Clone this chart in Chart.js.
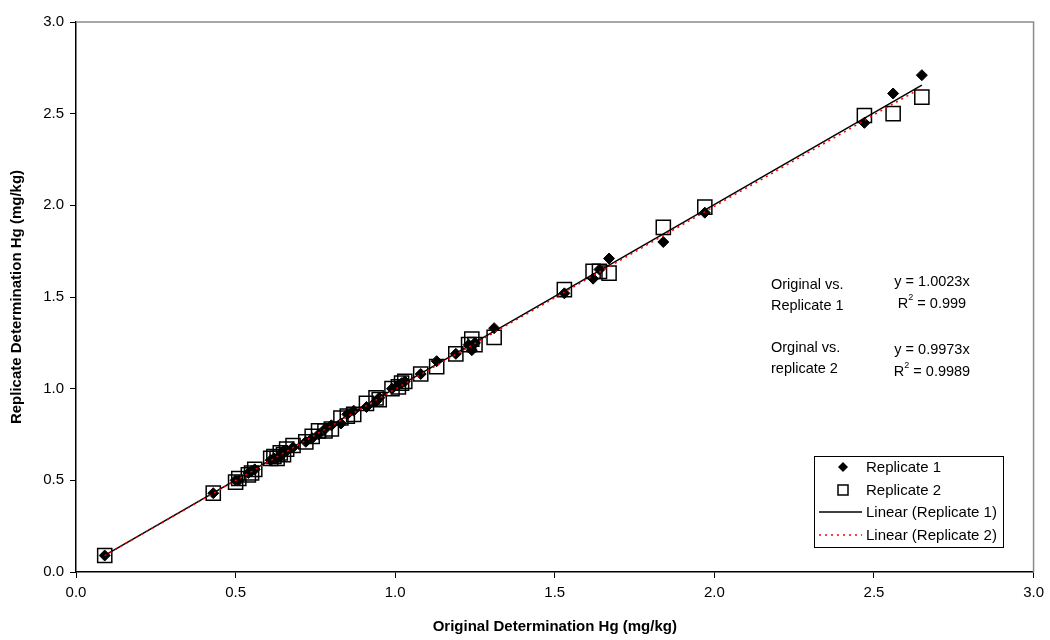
<!DOCTYPE html>
<html>
<head>
<meta charset="utf-8">
<script src="https://cdn.jsdelivr.net/npm/chart.js@4"></script>
<style>
  html, body { margin: 0; padding: 0; background: #fff; }
  #wrap { width: 1050px; height: 640px; }
</style>
</head>
<body>
<div id="wrap"><canvas id="hgChart" width="1050" height="640"></canvas></div>
<script>
// original determination (x) shared by both replicates
const original = [0.09, 0.43, 0.50, 0.51, 0.54, 0.55, 0.56, 0.61, 0.62, 0.63, 0.64, 0.65, 0.66, 0.68,
    0.72, 0.74, 0.76, 0.78, 0.80, 0.83, 0.85, 0.87, 0.91, 0.94, 0.95, 0.99, 1.01, 1.02, 1.03, 1.08,
    1.13, 1.19, 1.23, 1.24, 1.25, 1.31, 1.53, 1.62, 1.64, 1.67, 1.84, 1.97, 2.47, 2.56, 2.65];

// replicate determinations
const replicate1 = [0.09, 0.43, 0.50, 0.50, 0.54, 0.55, 0.56, 0.61, 0.62, 0.62, 0.63, 0.66, 0.66, 0.68,
    0.71, 0.73, 0.75, 0.78, 0.80, 0.81, 0.86, 0.88, 0.90, 0.93, 0.95, 1.00, 1.02, 1.03, 1.04, 1.08,
    1.15, 1.19, 1.24, 1.21, 1.25, 1.33, 1.52, 1.60, 1.65, 1.71, 1.80, 1.96, 2.45, 2.61, 2.71];
const replicate2 = [0.09, 0.43, 0.49, 0.51, 0.53, 0.54, 0.56, 0.62, 0.63, 0.62, 0.65, 0.64, 0.67, 0.69,
    0.71, 0.74, 0.77, 0.77, 0.78, 0.84, 0.85, 0.86, 0.92, 0.95, 0.94, 1.00, 1.01, 1.03, 1.04, 1.08,
    1.12, 1.19, 1.24, 1.27, 1.24, 1.28, 1.54, 1.64, 1.64, 1.63, 1.88, 1.99, 2.49, 2.50, 2.59];

// linear trend (through origin) slopes and x range
const slopes = [1.0023, 0.9973];
const trendRange = [0.09, 2.65];

// axis ticks
const tickValues = [0.0, 0.5, 1.0, 1.5, 2.0, 2.5, 3.0];

const fontFamily = "'Liberation Sans', Arial, sans-serif";

function toPoints (xs, ys) { return xs.map((x, i) => ({x: x, y: ys[i]})); }
function trendPoints (slope) { return trendRange.map(x => ({x: x, y: slope * x})); }

// "R² = value" centred on cx
function drawR2 (ctx, value, cx, y) {
    ctx.font = "14.5px " + fontFamily;
    const wR = ctx.measureText("R").width, wRest = ctx.measureText(" = " + value).width;
    ctx.font = "9px " + fontFamily;
    const wSup = ctx.measureText("2").width;
    let x = cx - (wR + wSup + wRest) / 2;
    ctx.textAlign = "left";
    ctx.font = "14.5px " + fontFamily; ctx.fillText("R", x, y);
    ctx.font = "9px " + fontFamily; ctx.fillText("2", x + wR, y - 6);
    ctx.font = "14.5px " + fontFamily; ctx.fillText(" = " + value, x + wR + wSup, y);
}

// gray frame on top/right, legend box and equation text
const decorations = {
    id: "decorations",
    afterDraw (chart) {
        const ctx = chart.ctx, a = chart.chartArea;
        ctx.save();
        ctx.strokeStyle = "#8c8c8c"; ctx.lineWidth = 1.5;
        ctx.beginPath();
        ctx.moveTo(a.left, a.top); ctx.lineTo(a.right, a.top); ctx.lineTo(a.right, a.bottom);
        ctx.stroke();

        // equation text
        ctx.fillStyle = "#000"; ctx.font = "14.5px " + fontFamily; ctx.textBaseline = "middle";
        ctx.textAlign = "left";
        ctx.fillText("Original vs.", 771, 285);
        ctx.fillText("Replicate 1", 771, 306);
        ctx.fillText("Orginal vs.", 771, 348);
        ctx.fillText("replicate 2", 771, 369);
        ctx.textAlign = "center";
        ctx.fillText("y = 1.0023x", 932, 282);
        ctx.fillText("y = 0.9973x", 932, 350);
        drawR2(ctx, "0.999", 932, 304);
        drawR2(ctx, "0.9989", 932, 372);

        // legend
        ctx.strokeStyle = "#000"; ctx.lineWidth = 1;
        ctx.strokeRect(814.5, 456.5, 189, 91);
        ctx.font = "15px " + fontFamily; ctx.textAlign = "left";
        const rows = [467, 490, 512, 535];
        const labels = ["Replicate 1", "Replicate 2", "Linear (Replicate 1)", "Linear (Replicate 2)"];
        labels.forEach((t, i) => ctx.fillText(t, 866, rows[i] + 1));
        ctx.fillStyle = "#000";
        ctx.beginPath();
        ctx.moveTo(843, rows[0] - 5); ctx.lineTo(848, rows[0]); ctx.lineTo(843, rows[0] + 5); ctx.lineTo(838, rows[0]);
        ctx.closePath(); ctx.fill();
        ctx.lineWidth = 1.5;
        ctx.strokeRect(838, rows[1] - 5, 10, 10);
        ctx.beginPath(); ctx.moveTo(819, rows[2]); ctx.lineTo(862, rows[2]); ctx.stroke();
        ctx.strokeStyle = "#ff0000"; ctx.setLineDash([2, 4]);
        ctx.beginPath(); ctx.moveTo(819, rows[3]); ctx.lineTo(862, rows[3]); ctx.stroke();
        ctx.restore();
    }
};

new Chart("hgChart", {
    type: "scatter",
    data: {
        datasets: [{
            label: "Linear (Replicate 2)",
            type: "line",
            data: trendPoints(slopes[1]),
            borderColor: "#ff0000",
            borderWidth: 1.5,
            borderDash: [2, 4],
            pointRadius: 0,
            order: 0
        }, {
            label: "Linear (Replicate 1)",
            type: "line",
            data: trendPoints(slopes[0]),
            borderColor: "#000",
            borderWidth: 1.5,
            pointRadius: 0,
            order: 1
        }, {
            label: "Replicate 1",
            data: toPoints(original, replicate1),
            pointStyle: "rectRot",
            pointRadius: 5.5,
            backgroundColor: "#000",
            borderColor: "#000",
            borderWidth: 1,
            order: 2
        }, {
            label: "Replicate 2",
            data: toPoints(original, replicate2),
            pointStyle: "rect",
            pointRadius: 10,
            backgroundColor: "rgba(0,0,0,0)",
            borderColor: "#000",
            borderWidth: 1.5,
            order: 3
        }]
    },
    options: {
        responsive: false,
        animation: false,
        layout: { padding: { top: 22, right: 14, left: 4, bottom: 0 } },
        plugins: { legend: { display: false }, tooltip: { enabled: false } },
        scales: {
            x: {
                type: "linear", min: 0, max: 3,
                afterFit (s) { s.height = 68; },
                afterBuildTicks (s) { s.ticks = tickValues.map(v => ({value: v})); },
                border: { color: "#000", width: 1.5 },
                grid: { drawOnChartArea: false, drawTicks: true, tickLength: 6, color: "#000", lineWidth: 1 },
                ticks: { color: "#000", font: { family: fontFamily, size: 15 }, padding: 6,
                    callback: v => v.toFixed(1) },
                title: { display: true, text: "Original Determination Hg (mg/kg)", color: "#000",
                    font: { family: fontFamily, size: 15, weight: "bold" }, padding: { top: 6 } }
            },
            y: {
                type: "linear", min: 0, max: 3,
                afterFit (s) { s.width = 72; },
                afterBuildTicks (s) { s.ticks = tickValues.map(v => ({value: v})); },
                border: { color: "#000", width: 1.5 },
                grid: { drawOnChartArea: false, drawTicks: true, tickLength: 6, color: "#000", lineWidth: 1 },
                ticks: { color: "#000", font: { family: fontFamily, size: 15 }, padding: 6,
                    callback: v => v.toFixed(1) },
                title: { display: true, text: "Replicate Determination Hg (mg/kg)", color: "#000",
                    font: { family: fontFamily, size: 15, weight: "bold" }, padding: { bottom: 2 } }
            }
        }
    },
    plugins: [decorations]
});
</script>
</body>
</html>
